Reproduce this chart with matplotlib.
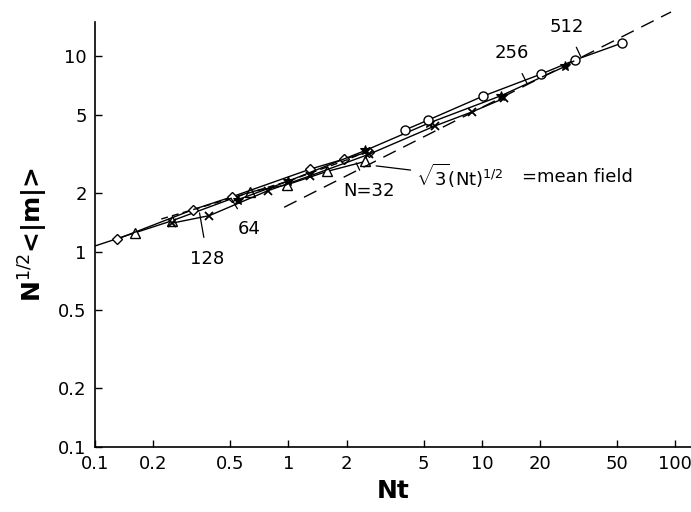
import numpy as np
import matplotlib.pyplot as plt
from matplotlib import font_manager

# values (Nt, N^1/2 <|m|>)
nt_32 = [0.10, 0.161, 0.25, 0.63, 0.98, 1.59, 2.5]
m_32 = [1.07, 1.25, 1.44, 2.02, 2.20, 2.58, 2.90]

nt_64 = [0.13, 0.32, 0.51, 1.30, 1.94, 2.6]
m_64 = [1.16, 1.64, 1.91, 2.65, 2.98, 3.25]

nt_128 = [0.25, 0.39, 0.78, 1.30, 2.6, 5.7, 8.9, 13.0]
m_128 = [1.40, 1.53, 2.05, 2.45, 3.15, 4.40, 5.20, 6.10]

nt_256 = [0.55, 1.0, 2.5, 5.3, 12.6, 27.0]
m_256 = [1.85, 2.30, 3.30, 4.55, 6.30, 8.90]

nt_512 = [4.0, 5.27, 10.1, 20.1, 30.4, 53.0]
m_512 = [4.20, 4.72, 6.25, 8.10, 9.60, 11.7]

nt_fit = [0.22, 0.5, 1.0, 2.0, 2.7]
m_fit = [1.47, 1.87, 2.30, 2.95, 3.35]

nt_mf = [0.95, 95.0]

xticks = [0.1, 0.2, 0.5, 1, 2, 5, 10, 20, 50, 100]
xlabels = ['0.1', '0.2', '0.5', '1', '2', '5', '10', '20', '50', '100']
yticks = [0.1, 0.2, 0.5, 1, 2, 5, 10]
ylabels = ['0.1', '0.2', '0.5', '1', '2', '5', '10']

names = {f.name for f in font_manager.fontManager.ttflist}
fam = 'Liberation Sans Narrow' if 'Liberation Sans Narrow' in names else 'DejaVu Sans'
plt.rcParams['font.family'] = fam
plt.rcParams['mathtext.fontset'] = 'custom'
plt.rcParams['mathtext.rm'] = fam
plt.rcParams['mathtext.bf'] = fam + ':bold'

fig = plt.figure(figsize=(6.91, 5.12), dpi=100)
ax = fig.add_axes([0.1375, 0.127, 0.862, 0.83])

lw = 1.0
mk = dict(markersize=6.5, markerfacecolor='white', markeredgecolor='black', markeredgewidth=1.0)
ax.plot(nt_32, m_32, '-', color='black', lw=lw, marker='^', markevery=slice(1, None), **mk)
ax.plot(nt_64, m_64, '-', color='black', lw=lw, marker='D', markersize=5.5,
        markerfacecolor='white', markeredgecolor='black', markeredgewidth=1.0)
ax.plot(nt_128, m_128, '-', color='black', lw=lw, marker='x', markersize=5.5, markeredgewidth=1.3)
ax.plot(nt_256, m_256, '-', color='black', lw=lw, marker='*', markersize=7, markeredgewidth=0.8)
ax.plot(nt_512, m_512, '-', color='black', lw=lw, marker='o', **mk)
ax.plot(nt_fit, m_fit, color='black', lw=lw, dashes=(5, 3))

nt_line = np.geomspace(nt_mf[0], nt_mf[1], 50)
ax.plot(nt_line, np.sqrt(3 * nt_line), color='black', lw=lw, dashes=(10, 6), clip_on=False)

ax.set_xscale('log')
ax.set_yscale('log')
ax.set_xlim(0.1, 120)
ax.set_ylim(0.1, 15)
ax.set_xticks(xticks)
ax.set_xticklabels(xlabels)
ax.set_yticks(yticks)
ax.set_yticklabels(ylabels)
ax.minorticks_off()
ax.tick_params(direction='in', length=5, width=1.0, labelsize=13, pad=6)
for s in ['top', 'right']:
    ax.spines[s].set_visible(False)
for s in ['left', 'bottom']:
    ax.spines[s].set_linewidth(1.2)

ax.set_xlabel('Nt', fontsize=18, fontweight='bold', labelpad=4)
ax.set_ylabel(r'N$^{1/2}$<|m|>', fontsize=18, fontweight='bold', labelpad=6)

def note(txt, xy, xytext):
    ax.annotate(txt, xy=xy, xytext=xytext, fontsize=13, ha='center', va='center',
                arrowprops=dict(arrowstyle='-', color='black', lw=0.9, shrinkA=7, shrinkB=0))

note('N=32', (2.24, 2.85), (2.62, 2.05))
note('64', (0.508, 1.86), (0.63, 1.31))
note('128', (0.347, 1.58), (0.382, 0.92))
note('256', (17.1, 7.28), (14.3, 10.4))
note('512', (32.4, 10.0), (27.4, 14.2))
ax.annotate(r'$\sqrt{3}$(Nt)$^{1/2}$', xy=(2.84, 2.75), xytext=(4.57, 2.44), fontsize=13,
            ha='left', va='center',
            arrowprops=dict(arrowstyle='-', color='black', lw=0.9, shrinkA=2, shrinkB=0))
ax.text(16.1, 2.42, '=mean field', fontsize=13, ha='left', va='center')

fig.savefig('out.png', dpi=100)
